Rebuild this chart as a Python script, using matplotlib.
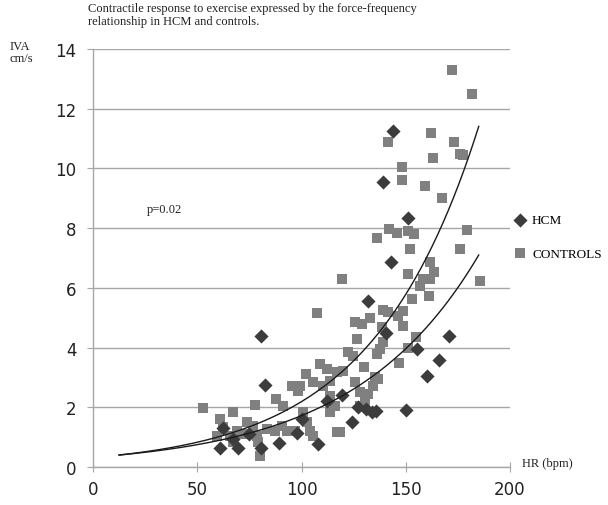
import numpy as np
import matplotlib
matplotlib.use("Agg")
import matplotlib.pyplot as plt

# HCM patients (heart rate bpm, IVA cm/s)
hcm_hr = [61, 69.5, 80.4, 89, 108, 97.7, 62.5, 67, 75, 80.4, 82.5, 119.3, 124.4, 127,
          131, 133.7, 135.7, 150.1, 140.5, 131.7, 143, 139, 144, 151, 155.2, 160, 166,
          170.9, 112, 100]
hcm_iva = [0.62, 0.65, 0.62, 0.8, 0.78, 1.15, 1.3, 0.95, 1.1, 4.4, 2.75, 2.42, 1.52, 2.0,
           1.94, 1.85, 1.87, 1.9, 4.5, 5.55, 6.85, 9.55, 11.27, 8.34, 3.95, 3.04, 3.58,
           4.38, 2.2, 1.6]

# Controls
ctrl_hr = [52.9, 67.3, 77.5, 61, 62.5, 59.3, 65.7, 68.9, 72.1, 67.3, 73.7, 76.9, 78.5,
           79.3, 80.1, 83.3, 87.3, 90.5, 92.9, 96.9, 87.6, 91.3, 95.3, 98.5, 100.9, 102.5,
           104, 105.7, 105.4, 102.2, 108.9, 112, 107.6, 113.7, 116, 116.9, 110.5, 113.7,
           113.7, 118.5, 99.3,
           119.6, 116.9, 120, 122.5, 124.8, 125.7, 128.9, 132.9, 126.8, 130, 125.7, 128,
           132, 134.4, 136.8, 128, 130.4, 135.3, 136, 137.6, 139, 138.5, 139.2, 141.6,
           146.5, 148.8, 148.8, 146.8, 150.9, 154.9, 152.8, 156.8, 151.2, 152, 161.2,
           158.4, 161.6, 163.5, 161.6, 136, 142, 146, 151, 154, 148, 148, 141.5, 159,
           163, 162, 167.5, 173, 176, 177.5, 172, 182, 179.5, 176, 185.6]
ctrl_iva = [1.98, 1.85, 2.08, 1.61, 1.33, 1.05, 1.05, 1.22, 1.1, 0.83, 1.5, 1.38, 1.05,
            0.83, 0.38, 1.27, 1.22, 1.38, 1.22, 1.22, 2.28, 2.05, 2.72, 2.56, 1.83, 1.5,
            1.22, 1.05, 2.84, 3.11, 3.45, 3.28, 5.15, 2.39, 2.05, 1.16, 2.72, 2.89,
            1.83, 1.16, 2.72,
            6.3, 3.17, 3.22, 3.84, 3.73, 4.85, 4.79, 4.99, 4.29, 3.34, 2.84, 2.5,
            2.44, 2.72, 2.95, 2.05, 2.17, 3.0, 3.78, 3.95, 4.17, 4.68, 5.27, 5.2,
            5.07, 5.23, 4.71, 3.5, 4.0, 4.34, 5.63, 6.07, 6.46, 7.3, 5.72,
            6.3, 6.3, 6.52, 6.85, 7.66, 7.97, 7.85, 7.9, 7.8, 9.6, 10.05, 10.9, 9.4,
            10.35, 11.2, 9.0, 10.9, 10.5, 10.45, 13.3, 12.5, 7.93, 7.3, 6.24]

# exponential trend lines y = a * exp(b * x)
trend_ctrl = (0.314, 0.01942)
trend_hcm = (0.325, 0.01667)
trend_range = (12.5, 185)

x_ticks = [0, 50, 100, 150, 200]
y_ticks = [0, 2, 4, 6, 8, 10, 12, 14]

serif = "Liberation Serif"

fig = plt.figure(figsize=(6.08, 5.06), dpi=100)
ax = fig.add_axes([93 / 608, 38 / 506, 417 / 608, 418 / 506])

ax.scatter(ctrl_hr, ctrl_iva, marker="s", s=52, color="#808080", linewidths=0,
           label="CONTROLS", zorder=3)
ax.scatter(hcm_hr, hcm_iva, marker="D", s=52, color="#3c3c3c", linewidths=0,
           label="HCM", zorder=3)

xs = np.linspace(trend_range[0], trend_range[1], 200)
for a, b in (trend_ctrl, trend_hcm):
    ax.plot(xs, a * np.exp(b * xs), color="#1a1a1a", linewidth=1.0, zorder=4)

ax.set_xlim(0, 200)
ax.set_ylim(0, 14)
ax.set_xticks(x_ticks)
ax.set_yticks(y_ticks)
ax.grid(axis="y", color="#a6a6a6", linewidth=1.0)
ax.set_axisbelow(True)

for side in ("top", "right"):
    ax.spines[side].set_visible(False)
for side in ("left", "bottom"):
    ax.spines[side].set_color("#a6a6a6")
    ax.spines[side].set_linewidth(1.0)
ax.tick_params(axis="x", direction="inout", length=7, color="#a6a6a6",
               labelsize=12, labelcolor="#222222", pad=6)
ax.tick_params(axis="y", direction="out", length=4, color="#a6a6a6",
               labelsize=12, labelcolor="#222222", pad=8)

ax.text(26, 8.65, "p=0.02", fontsize=9, family=serif, va="center", color="#222222")

fig.text(88 / 608, 1 - 3 / 506,
         "Contractile response to exercise expressed by the force-frequency\n"
         "relationship in HCM and controls.",
         fontsize=9, family=serif, va="top", ha="left", color="#222222",
         linespacing=1.1)
fig.text(10 / 608, 1 - 41 / 506, "IVA\ncm/s", fontsize=9, family=serif,
         va="top", ha="left", color="#222222", linespacing=1.0)
fig.text(522 / 608, 1 - 464 / 506, "HR (bpm)", fontsize=9, family=serif,
         va="center", ha="left", color="#222222")

handles, labels = ax.get_legend_handles_labels()
fig.legend(handles[::-1], labels[::-1], loc="center left",
           bbox_to_anchor=(507 / 608, 1 - 238 / 506), frameon=False,
           prop={"family": serif, "size": 9.5}, labelspacing=1.6,
           handletextpad=0.3, handlelength=1.2, borderaxespad=0)

fig.savefig("out.png", dpi=100)
